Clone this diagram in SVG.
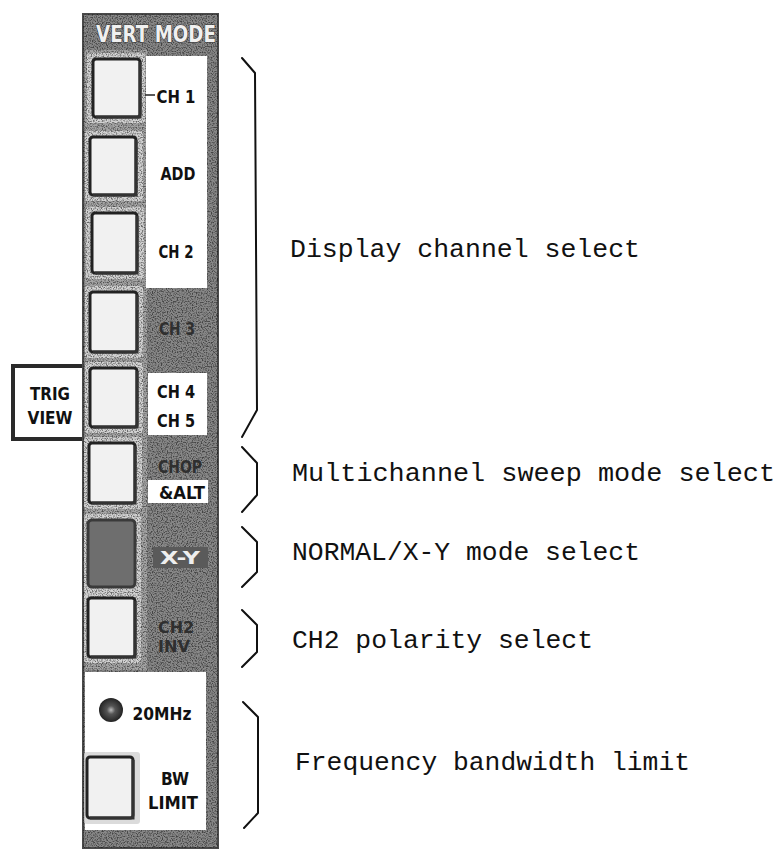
<svg xmlns="http://www.w3.org/2000/svg" width="777" height="854" viewBox="0 0 777 854">
<style>
  .lbl{font-family:"DejaVu Sans","Liberation Sans",sans-serif;font-weight:bold;font-size:18px;fill:#111;text-anchor:middle}
  .dim{fill:#2f2f2f}
  .desc{font-family:"Liberation Mono","Courier New",monospace;font-size:26px;fill:#111}
  .brace{fill:none;stroke:#111;stroke-width:2;stroke-linejoin:round;stroke-linecap:round}
  .halo{fill:#d2d2d2}
  .btn{fill:#f1f1f1;stroke:#222;stroke-width:3}
  .sh{fill:none;stroke:#333;stroke-width:3}
</style>
<defs>
  <filter id="grain" x="0" y="0" width="100%" height="100%">
    <feTurbulence type="fractalNoise" baseFrequency="0.8" numOctaves="1" seed="7" result="n"/>
    <feColorMatrix in="n" type="matrix" values="0 0 0 0 0  0 0 0 0 0  0 0 0 0 0  4 0 0 0 -1.8"/>
  </filter>
  <radialGradient id="led" cx="50%" cy="50%" r="50%">
    <stop offset="0" stop-color="#bbb"/>
    <stop offset="0.35" stop-color="#555"/>
    <stop offset="0.8" stop-color="#333"/>
    <stop offset="1" stop-color="#222"/>
  </radialGradient>
</defs>
<rect width="777" height="854" fill="#fff"/>

<g id="trig-view">
  <rect x="13" y="366" width="76" height="73" fill="#fff" stroke="#2a2a2a" stroke-width="4"/>
  <text class="lbl" x="50" y="400" textLength="40" lengthAdjust="spacingAndGlyphs">TRIG</text>
  <text class="lbl" x="50" y="424" textLength="45" lengthAdjust="spacingAndGlyphs">VIEW</text>
</g>

<g id="panel">
  <rect x="83" y="14" width="135" height="834" fill="#888" stroke="#4a4a4a" stroke-width="2"/>
  <rect x="85" y="50" width="62" height="620" fill="#a5a5a5"/>
  <rect class="halo" x="87" y="53" width="58" height="70" rx="3"/>
  <rect class="halo" x="85" y="131" width="58" height="70" rx="3"/>
  <rect class="halo" x="86" y="207" width="58" height="72" rx="3"/>
  <rect class="halo" x="85" y="286" width="58" height="72" rx="3"/>
  <rect class="halo" x="85" y="362" width="58" height="71" rx="3"/>
  <rect class="halo" x="84" y="437" width="58" height="72" rx="3"/>
  <rect class="halo" x="84" y="514" width="57" height="79" rx="3"/>
  <rect class="halo" x="84" y="592" width="57" height="71" rx="3"/>
  <rect x="83" y="14" width="135" height="834" fill="#000" filter="url(#grain)" opacity="0.5"/>
  <text x="156" y="42" textLength="120" lengthAdjust="spacingAndGlyphs" style="font-family:'DejaVu Sans',sans-serif;font-weight:bold;font-size:23px;fill:#f0f0f0;stroke:#333;stroke-width:1.2;paint-order:stroke;text-anchor:middle">VERT MODE</text>
  <rect x="146" y="56" width="61" height="232" fill="#fff"/>
  <rect x="148" y="373" width="59" height="62" fill="#fff"/>
  <rect x="148" y="480" width="60" height="23" fill="#fff"/>
  <rect x="153" y="547" width="55" height="21" fill="#5a5a5a"/>
  <rect x="85" y="672" width="121" height="158" fill="#fff"/>
  <rect class="halo" x="84" y="752" width="56" height="72" rx="3" opacity="0.8"/>
</g>

<g id="btn-ch1">
  <rect class="btn" x="93" y="59" width="47" height="58" rx="3"/>
  <polyline class="sh" points="140,62 140,117 96,117"/>
  <line x1="145" y1="95" x2="155" y2="95" stroke="#222" stroke-width="1.5"/>
  <text class="lbl" x="176" y="103" textLength="39" lengthAdjust="spacingAndGlyphs">CH 1</text>
</g>
<g id="btn-add">
  <rect class="btn" x="90" y="137" width="46" height="58" rx="3"/>
  <polyline class="sh" points="136,140 136,195 93,195"/>
  <text class="lbl" x="178" y="180" textLength="35" lengthAdjust="spacingAndGlyphs">ADD</text>
</g>
<g id="btn-ch2">
  <rect class="btn" x="92" y="213" width="45" height="60" rx="3"/>
  <polyline class="sh" points="137,216 137,273 95,273"/>
  <text class="lbl" x="176" y="258" textLength="35" lengthAdjust="spacingAndGlyphs">CH 2</text>
</g>
<g id="btn-ch3">
  <rect class="btn" x="90" y="292" width="47" height="60" rx="3"/>
  <polyline class="sh" points="137,295 137,352 93,352"/>
  <text class="lbl dim" x="177" y="335" textLength="36" lengthAdjust="spacingAndGlyphs">CH 3</text>
</g>
<g id="btn-ch4">
  <rect class="btn" x="90" y="368" width="47" height="59" rx="3"/>
  <polyline class="sh" points="137,371 137,427 93,427"/>
  <text class="lbl" x="176" y="398" textLength="38" lengthAdjust="spacingAndGlyphs">CH 4</text>
  <text class="lbl" x="176" y="427" textLength="38" lengthAdjust="spacingAndGlyphs">CH 5</text>
</g>
<g id="btn-chop">
  <rect class="btn" x="89" y="443" width="46" height="60" rx="3"/>
  <polyline class="sh" points="135,446 135,503 92,503"/>
  <text class="lbl dim" x="180" y="473" textLength="44" lengthAdjust="spacingAndGlyphs">CHOP</text>
  <text class="lbl" x="182" y="499" textLength="46" lengthAdjust="spacingAndGlyphs">&amp;ALT</text>
</g>
<g id="btn-xy">
  <rect x="88" y="520" width="47" height="67" rx="4" fill="#6e6e6e" stroke="#3a3a3a" stroke-width="3"/>
  <text class="lbl" x="180" y="564" textLength="40" lengthAdjust="spacingAndGlyphs" style="fill:#eee">X-Y</text>
</g>
<g id="btn-ch2inv">
  <rect class="btn" x="88" y="598" width="47" height="59" rx="3"/>
  <polyline class="sh" points="135,601 135,657 91,657"/>
  <text class="lbl dim" x="176" y="633" textLength="36" lengthAdjust="spacingAndGlyphs" style="font-size:16px">CH2</text>
  <text class="lbl dim" x="174" y="652" textLength="32" lengthAdjust="spacingAndGlyphs" style="font-size:16px">INV</text>
</g>
<g id="led-20mhz">
  <circle cx="111" cy="710" r="12" fill="url(#led)"/>
  <text class="lbl" x="162" y="720" textLength="59" lengthAdjust="spacingAndGlyphs">20MHz</text>
</g>
<g id="btn-bwlimit">
  <rect class="btn" x="87" y="757" width="46" height="61" rx="3"/>
  <polyline class="sh" points="133,760 133,818 90,818"/>
  <text class="lbl" x="175" y="785" textLength="28" lengthAdjust="spacingAndGlyphs">BW</text>
  <text class="lbl" x="173" y="809" textLength="50" lengthAdjust="spacingAndGlyphs">LIMIT</text>
</g>

<g id="connectors">
  <polyline class="brace" points="242,58 255,73 257,410 242,437"/>
  <polyline class="brace" points="242,447 257,463 257,495 242,512"/>
  <polyline class="brace" points="242,527 257,542 257,572 242,587"/>
  <polyline class="brace" points="242,610 257,625 257,652 242,667"/>
  <polyline class="brace" points="243,702 258,717 258,813 244,828"/>
</g>

<g id="desc-display"><text class="desc" x="290" y="257" textLength="350" lengthAdjust="spacingAndGlyphs">Display channel select</text></g>
<g id="desc-multi"><text class="desc" x="292" y="481" textLength="483" lengthAdjust="spacingAndGlyphs">Multichannel sweep mode select</text></g>
<g id="desc-normal"><text class="desc" x="292" y="560" textLength="348" lengthAdjust="spacingAndGlyphs">NORMAL/X-Y mode select</text></g>
<g id="desc-ch2"><text class="desc" x="292" y="648" textLength="301" lengthAdjust="spacingAndGlyphs">CH2 polarity select</text></g>
<g id="desc-freq"><text class="desc" x="295" y="770" textLength="395" lengthAdjust="spacingAndGlyphs">Frequency bandwidth limit</text></g>
</svg>
